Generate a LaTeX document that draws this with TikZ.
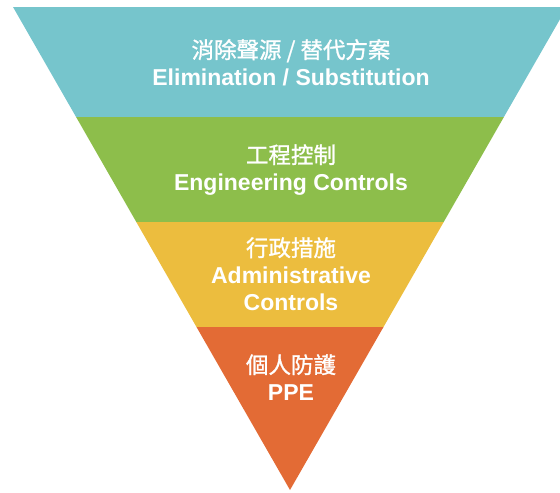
\documentclass[tikz,border=0pt]{standalone}
\usepackage{fontspec}
\setmainfont{Liberation Sans}
\newfontfamily\cjk{Noto Sans CJK TC}[UprightFeatures={FakeBold=1.2}]
\usetikzlibrary{positioning}
\definecolor{elimteal}{HTML}{76C5CC}
\definecolor{enggreen}{HTML}{8DBE4B}
\definecolor{adminyellow}{HTML}{ECBD3E}
\definecolor{ppeorange}{HTML}{E36B35}

\begin{document}
\begin{tikzpicture}
[	
						x=1pt, y=-1pt,
						node distance={27pt},
						band/.style = {draw=none},
						tag/.style = {text=white, inner sep=0pt, text height=16.5pt, text depth=0pt, font=\fontsize{23}{27}\selectfont\bfseries},
						cjktag/.style = {tag, font=\cjk\fontsize{22.5}{27}\selectfont}
					]
\useasboundingbox (0,0) rectangle (560,493);
\clip (0,0) rectangle (560,493);
\coordinate (l0) at (13,7);
\coordinate (r0) at (567,7);
\coordinate (l1) at (76.1,117);
\coordinate (r1) at (503.9,117);
\coordinate (l2) at (136.3,222);
\coordinate (r2) at (443.7,222);
\coordinate (l3) at (196.5,327);
\coordinate (r3) at (383.5,327);
\coordinate (apex) at (290,490);
\fill[band, elimteal] (l0) -- (r0) -- (r1) -- (l1) -- cycle;
\fill[band, enggreen] (l1) -- (r1) -- (r2) -- (l2) -- cycle;
\fill[band, adminyellow] (l2) -- (r2) -- (r3) -- (l3) -- cycle;
\fill[band, ppeorange] (l3) -- (r3) -- (apex) -- cycle;
\node[cjktag] (c1) at (291,50) {消除聲源 / 替代方案};
\node[tag] (e1) [below of=c1] {Elimination / Substitution};
\node[cjktag] (c2) at (291,155) {工程控制};
\node[tag] (e2) [below of=c2] {Engineering Controls};
\node[cjktag] (c3) at (291,248) {行政措施};
\node[tag] (e3) [below of=c3] {Administrative};
\node[tag] (e4) [below of=e3] {Controls};
\node[cjktag] (c4) at (291,365) {個人防護};
\node[tag] (e5) [below of=c4] {PPE};
\end{tikzpicture}
\end{document}
